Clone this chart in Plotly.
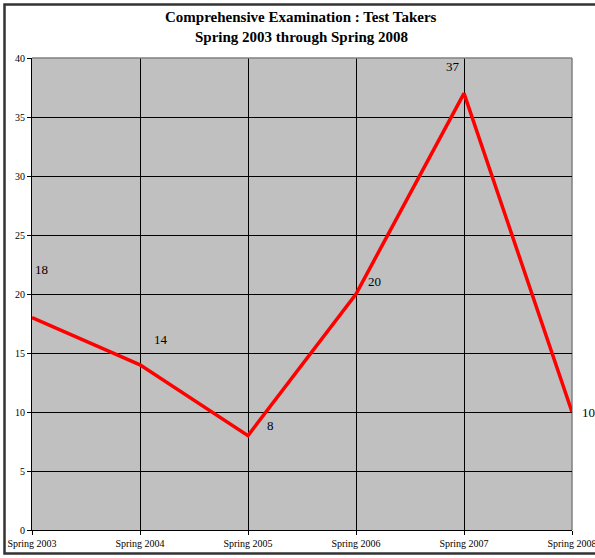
import plotly.graph_objects as go

categories = ["Spring 2003", "Spring 2004", "Spring 2005", "Spring 2006", "Spring 2007", "Spring 2008"]
test_takers = [18, 14, 8, 20, 37, 10]
y_ticks = [0, 5, 10, 15, 20, 25, 30, 35, 40]
title_lines = ["Comprehensive Examination : Test Takers", "Spring 2003 through Spring 2008"]

# label offsets (px) mimicking the original label placement
label_dx = [9, 21, 22, 18, -11, 16]
label_dy = [48, 25, 10, 13, 27, 0]

W, H = 595, 558
L, T = 32, 58
pw, ph = 540, 472
R, B = W - L - pw, H - T - ph

def px_x(px):  # page px -> paper x
    return (px - L) / pw

def px_y(py):  # page py -> paper y
    return (T + ph - py) / ph

fig = go.Figure()
fig.add_trace(go.Scatter(
    x=list(range(len(categories))), y=test_takers, mode="lines",
    line=dict(color="#FF0000", width=3.5), hoverinfo="skip", cliponaxis=False,
))

for i, v in enumerate(test_takers):
    fig.add_annotation(x=i, y=v, text=str(v), showarrow=False,
                       xshift=label_dx[i], yshift=label_dy[i],
                       xanchor="center", yanchor="middle",
                       font=dict(family="Liberation Serif", size=13, color="#000000"))

fig.add_annotation(xref="paper", yref="paper", x=px_x(301), y=px_y(17),
                   xanchor="center", yanchor="middle",
                   text="<b>" + title_lines[0] + "</b>", showarrow=False,
                   font=dict(family="Liberation Serif", size=15, color="#000000"))
fig.add_annotation(xref="paper", yref="paper", x=px_x(301), y=px_y(37),
                   xanchor="center", yanchor="middle",
                   text="<b>" + title_lines[1] + "</b>", showarrow=False,
                   font=dict(family="Liberation Serif", size=15, color="#000000"))

# outer chart border
fig.add_shape(type="rect", xref="paper", yref="paper",
              x0=px_x(4.5), x1=px_x(620),
              y0=px_y(553.5), y1=px_y(4.5),
              line=dict(color="#333333", width=2.5), layer="below")
# gray top and right plot edges
fig.add_shape(type="line", xref="paper", yref="paper", x0=0, x1=1, y0=1, y1=1,
              line=dict(color="#808080", width=1.5), layer="above")
fig.add_shape(type="line", xref="paper", yref="paper", x0=1, x1=1, y0=0, y1=1,
              line=dict(color="#808080", width=1.5), layer="below")

fig.update_layout(
    width=W, height=H, margin=dict(l=L, r=R, t=T, b=B, autoexpand=False),
    paper_bgcolor="#FFFFFF", plot_bgcolor="#C0C0C0",
    showlegend=False,
    font=dict(family="Liberation Serif", color="#000000"),
)
fig.update_xaxes(
    range=[0, len(categories) - 1], tickvals=list(range(len(categories))), ticktext=categories,
    showgrid=True, gridcolor="#000000", gridwidth=1,
    showline=True, linecolor="#000000", linewidth=1,
    ticks="outside", ticklen=4, tickcolor="#000000", automargin=False,
    ticklabeloverflow="allow",
    tickfont=dict(family="Liberation Serif", size=10), zeroline=False, fixedrange=True,
)
fig.update_yaxes(
    range=[0, 40], tickvals=y_ticks,
    showgrid=True, gridcolor="#000000", gridwidth=1,
    showline=True, linecolor="#000000", linewidth=1,
    ticks="outside", ticklen=4, tickcolor="#000000", automargin=False,
    ticklabeloverflow="allow",
    tickfont=dict(family="Liberation Serif", size=10), zeroline=False, fixedrange=True,
)

fig.write_html(
    "out.html",
    config={"displayModeBar": False, "staticPlot": True},
    post_script="document.body.style.margin='0';document.body.style.overflow='hidden';",
)
